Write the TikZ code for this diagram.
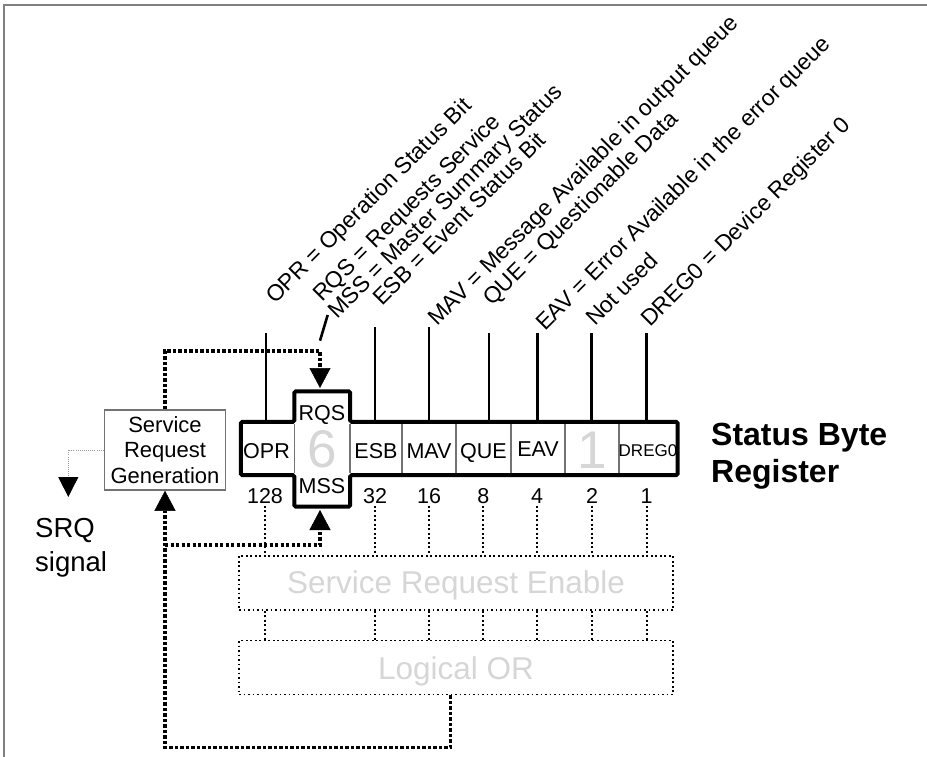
\documentclass[tikz,border=0pt]{standalone}
\usepackage{fontspec}
\setmainfont{Liberation Sans}
\usetikzlibrary{arrows.meta,calc}
\definecolor{lightg}{gray}{0.84}
\begin{document}
\begin{tikzpicture}[x=1pt,y=-1pt,
  lbl/.style={rotate=45,anchor=base west,inner sep=0pt,font=\fontsize{22.8}{24}\selectfont},
  cell/.style={anchor=base,inner sep=0pt,font=\fontsize{21.5}{24}\selectfont},
  num/.style={anchor=base,inner sep=2pt,font=\fontsize{21.5}{24}\selectfont},
  big/.style={anchor=base,inner sep=0pt,text=lightg,font=\fontsize{53}{60}\selectfont},
  lead/.style={line width=2.6pt},
  divider/.style={line width=1.1pt,draw=black!55},
  ldot/.style={line width=1.8pt,dash pattern=on 1.8pt off 2.7pt},
  hdot/.style={line width=3.3pt,dash pattern=on 3.3pt off 2.2pt},
  tip/.style={-{Triangle[width=21pt,length=20pt,line width=0.5pt]}},
  boxtxt/.style={draw,ldot,minimum width=434pt,minimum height=54pt,inner sep=0pt,text=lightg,text depth=0pt,font=\fontsize{31.5}{34}\selectfont},
  srqline/.style={line width=0.9pt,draw=black!40,dash pattern=on 0.9pt off 1.2pt}
]
\useasboundingbox (0,0) rectangle (927,757);
% frame
\draw[draw=black!50,line width=2pt] (4,757) -- (4,5) -- (927,5);

% register geometry
\node[minimum width=436.5pt,minimum height=53pt,inner sep=0pt] (bar) at (459.25,448.5) {};
\node[minimum width=55.5pt,minimum height=115pt,inner sep=0pt] (cross) at (322.25,449) {};
\draw[line width=4pt,rounded corners=1.5pt,fill=white]
  (bar.north west) -- (cross.west |- bar.north) -- (cross.north west) -- (cross.north east)
  -- (cross.east |- bar.north) -- (bar.north east) -- (bar.south east)
  -- (cross.east |- bar.south) -- (cross.south east) -- (cross.south west)
  -- (cross.west |- bar.south) -- (bar.south west) -- cycle;
\foreach \x in {294.5,350,402,456,511,565,619}
  \draw[divider] (\x,424) -- (\x,473);

% cell texts
\node[cell] (opr) at (266.5,458) {OPR};
\node[cell] (rqs) at (322,420.7) {RQS};
\node[cell] (mss) at (322,493.3) {MSS};
\node[big] (six) at (322,467) {6};
\node[cell] (esb) at (376,458) {ESB};
\node[cell] (mav) at (429,458) {MAV};
\node[cell] (que) at (483.5,458) {QUE};
\node[cell] (eav) at (538,456.5) {EAV};
\node[big] (one) at (592,468) {1};
\node[cell,font=\fontsize{17}{20}\selectfont] (dreg) at (648,456) {DREG0};

% weights
\node[num] (n128) at (265,503.5) {128};
\node[num] (n32) at (375,503.5) {32};
\node[num] (n16) at (429,503.5) {16};
\node[num] (n8) at (483.3,503.5) {8};
\node[num] (n4) at (537,503.5) {4};
\node[num] (n2) at (592,503.5) {2};
\node[num] (n1) at (646.7,503.5) {1};

% enable and OR blocks
\node[boxtxt,text height=20pt] (sre) at (456,583) {Service Request Enable};
\node[boxtxt,text height=23pt] (lor) at (456,667.5) {Logical OR};
\foreach \n in {n128,n32,n16,n8,n4,n2,n1}{
  \draw[ldot] (\n.south) -- (\n |- sre.north);
  \draw[ldot] (\n |- sre.south) -- (\n |- lor.north);
}

% service request generation
\node[draw=black!55,line width=1.5pt,minimum width=121pt,minimum height=80pt,align=center,inner sep=0pt,font=\fontsize{22}{25.5}\selectfont] (srg) at (165,450) {Service\\Request\\Generation};
\node[anchor=north west,inner sep=0pt,align=left,font=\fontsize{27.5}{34}\selectfont] (srq) at (35,518) {SRQ\\signal};
\coordinate (srqtip) at (68.3,497);
\draw[srqline,-{Triangle[width=20pt,length=20pt,color=black,fill=black]}] (srg.west) -| (srqtip);

\node[anchor=north west,inner sep=0pt,align=left,font=\bfseries\fontsize{32}{37}\selectfont] (title) at (711,423) {Status Byte\\Register};

% feedback paths
\coordinate (c1) at (320,351);
\coordinate (rqsin) at (320,388);
\coordinate (j1) at (165,545);
\coordinate (mssin) at (320,510);
\draw[hdot,tip] (srg.north) |- (c1) -- (rqsin);
\draw[hdot,tip] ([xshift=-5.3pt]lor.south) -- ++(0,52) -| (srg.south);
\draw[hdot,tip] (j1) -| (mssin);

% rotated labels
\node[lbl] (lopr) at (275,305) {OPR = Operation Status Bit};
\node[lbl] (lrqs) at (322,303) {RQS = Requests Service};
\node[lbl] (lmss) at (337,320) {MSS = Master Summary Status};
\node[lbl] (lesb) at (382,307) {ESB = Event Status Bit};
\node[lbl] (lmav) at (437,327) {MAV = Message Available in output queue};
\node[lbl] (lque) at (492,307) {QUE = Questionable Data};
\node[lbl] (leav) at (545,332) {EAV = Error Available in the error queue};
\node[lbl] (lnu) at (595,327) {Not used};
\node[lbl] (ldreg) at (650,328) {DREG0 = Device Register 0};

% leader lines
\coordinate (tOPR) at (266,333);
\coordinate (tESB) at (375,327);
\coordinate (tMAV) at (429,327);
\coordinate (tQUE) at (489,333);
\coordinate (tEAV) at (537.3,333);
\coordinate (tNU) at (591.7,333);
\coordinate (tDREG) at (646.7,333);
\foreach \t in {tOPR,tESB,tMAV,tQUE,tEAV,tNU,tDREG}
  \draw[lead] (\t) -- (\t |- bar.north);
\coordinate (p1) at (327.7,315);
\coordinate (p2) at (320,340.7);
\draw[lead] (p1) -- (p2);
\end{tikzpicture}
\end{document}
